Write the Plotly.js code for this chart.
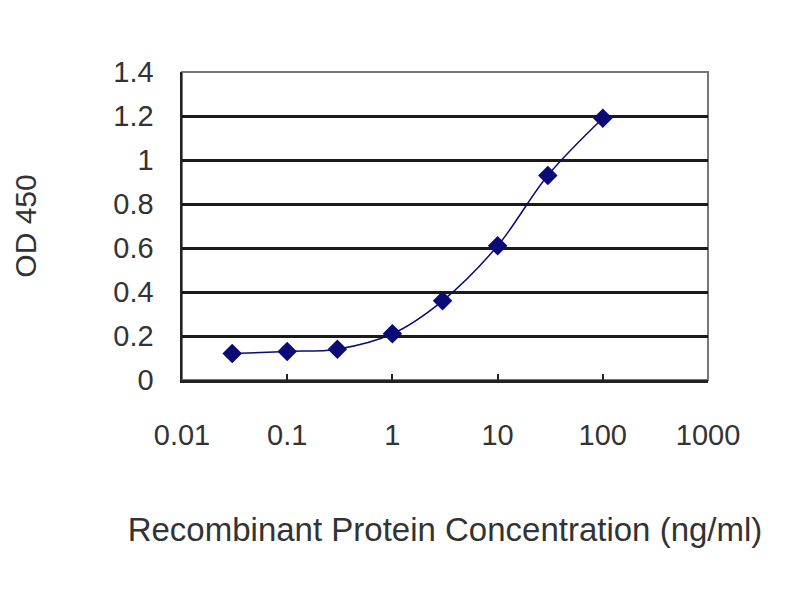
<!DOCTYPE html>
<html>
<head>
<meta charset="utf-8">
<script src="https://cdn.plot.ly/plotly-3.0.1.min.js"></script>
<style>
  html, body { margin: 0; padding: 0; background: #fff; }
  #chart { width: 800px; height: 600px; }
</style>
</head>
<body>
<div id="chart"></div>
<script>
// ELISA standard curve
var concentration = [0.03, 0.1, 0.3, 1, 3, 10, 30, 100]; // ng/ml
var od450 = [0.12, 0.13, 0.14, 0.21, 0.36, 0.61, 0.93, 1.19];
var xTickVals = [0.01, 0.1, 1, 10, 100, 1000];
var xTickText = ['0.01', '0.1', '1', '10', '100', '1000'];
var yTickVals = [0, 0.2, 0.4, 0.6, 0.8, 1, 1.2, 1.4];
var yTickText = ['0', '0.2', '0.4', '0.6', '0.8', '1', '1.2', '1.4'];

var navy = '#0b0b78';
var textColor = '#333333';

var curve = {
    x: concentration,
    y: od450,
    mode: 'lines+markers',
    type: 'scatter',
    line: {color: navy, width: 1.5, shape: 'spline', smoothing: 1},
    marker: {color: navy, symbol: 'diamond', size: 15}
};

var layout = {
    width: 800,
    height: 600,
    paper_bgcolor: '#ffffff',
    plot_bgcolor: '#ffffff',
    showlegend: false,
    font: {family: 'Liberation Sans, Arial, sans-serif', color: textColor, size: 29},
    margin: {t: 72, r: 92, l: 182, b: 220},
    xaxis: {
        type: 'log',
        range: [-2, 3],
        tickvals: xTickVals,
        ticktext: xTickText,
        showgrid: false,
        zeroline: false,
        showline: true,
        linecolor: '#222',
        linewidth: 2.5,
        ticks: 'inside',
        ticklen: 6,
        tickwidth: 2,
        tickcolor: '#222',
        ticklabelstandoff: 28,
        title: {text: 'Recombinant Protein Concentration (ng/ml)', standoff: 68, font: {size: 33}}
    },
    yaxis: {
        range: [0, 1.4],
        tickvals: yTickVals,
        ticktext: yTickText,
        showgrid: true,
        gridcolor: '#1a1a1a',
        gridwidth: 3,
        zeroline: false,
        showline: true,
        linecolor: '#222',
        linewidth: 2.5,
        ticks: 'outside',
        ticklen: 0,
        ticklabelstandoff: 20,
        title: {text: 'OD 450', standoff: 68, font: {size: 30}}
    },
    shapes: [{
        type: 'rect', xref: 'paper', yref: 'paper', x0: 0, x1: 1, y0: 0, y1: 1,
        line: {color: '#777', width: 2}, layer: 'below'
    }]
};

Plotly.newPlot('chart', [curve], layout, {displayModeBar: false, staticPlot: true});
</script>
</body>
</html>
